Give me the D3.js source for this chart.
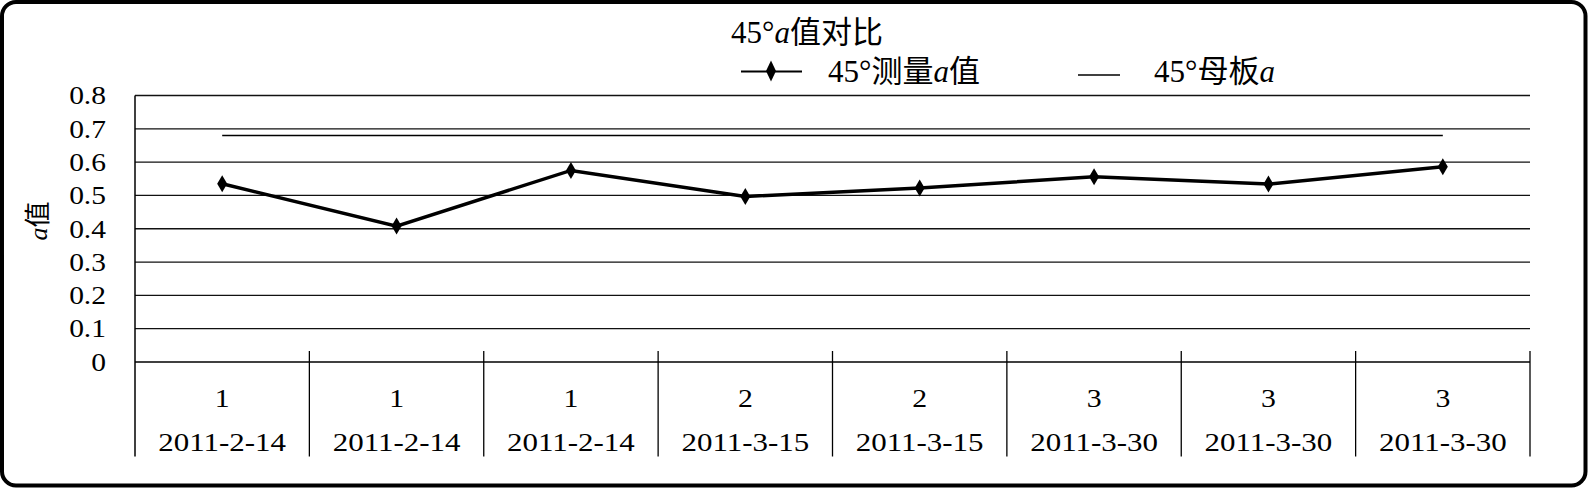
<!DOCTYPE html>
<html lang="zh">
<head>
  <meta charset="UTF-8">
  <title>45°a值对比</title>
  <script src="https://cdn.jsdelivr.net/npm/d3@7"></script>
  <style>
    html, body { margin: 0; padding: 0; background: #fff; }
    svg { display: block; }
    text { fill: #000; }
  </style>
</head>
<body>
  <div id="chart"></div>
  <script>
    // data
    const groups = ['1', '1', '1', '2', '2', '3', '3', '3'];
    const dates = ['2011-2-14', '2011-2-14', '2011-2-14', '2011-3-15', '2011-3-15', '2011-3-30', '2011-3-30', '2011-3-30'];
    const measured = [0.535, 0.408, 0.575, 0.497, 0.522, 0.556, 0.534, 0.586];
    const motherBoard = [0.68, 0.68, 0.68, 0.68, 0.68, 0.68, 0.68, 0.68];
    const yTicks = [0, 0.1, 0.2, 0.3, 0.4, 0.5, 0.6, 0.7, 0.8];

    const LAT = '"Liberation Serif"';
    const CJK = '"Noto Sans CJK SC"';

    const width = 1588, height = 488;
    const plot = { left: 135, right: 1530, top: 95.5, bottom: 362 };

    const svg = d3.select('#chart').append('svg')
      .attr('width', width)
      .attr('height', height);

    // outer rounded frame
    svg.append('rect')
      .attr('x', 2).attr('y', 2)
      .attr('width', 1583.5).attr('height', 483.5)
      .attr('rx', 14).attr('ry', 14)
      .attr('fill', '#fff')
      .attr('stroke', '#000')
      .attr('stroke-width', 4);

    const idx = d3.range(groups.length);
    const x = d3.scaleBand().domain(idx).range([plot.left, plot.right]).padding(0);
    const cx = i => x(i) + x.bandwidth() / 2;
    const y = d3.scaleLinear().domain([0, 0.8]).range([plot.bottom, plot.top]);

    // mixed latin / cjk text: each piece gets its own font
    function richText(sel, parts) {
      parts.forEach(p => {
        sel.append('tspan')
          .style('font-family', p.cjk ? CJK : LAT)
          .style('font-style', p.italic ? 'italic' : 'normal')
          .text(p.t);
      });
      return sel;
    }

    // horizontal gridlines
    svg.append('g')
      .selectAll('line')
      .data(yTicks.filter(d => d > 0))
      .join('line')
      .attr('x1', plot.left).attr('x2', plot.right)
      .attr('y1', d => y(d)).attr('y2', d => y(d))
      .attr('stroke', '#111')
      .attr('stroke-width', 1.3);

    // y tick labels
    svg.append('g')
      .selectAll('text')
      .data(yTicks)
      .join('text')
      .attr('transform', d => `translate(106,${y(d)}) scale(1.18,1)`)
      .attr('text-anchor', 'end')
      .attr('dy', '0.35em')
      .attr('font-size', 25)
      .style('font-family', LAT)
      .text(d => d === 0 ? '0' : d3.format('.1f')(d));

    // y axis title
    const yTitle = svg.append('text')
      .attr('transform', 'translate(47,221) rotate(-90)')
      .attr('text-anchor', 'middle')
      .attr('font-size', 26);
    richText(yTitle, [{ t: 'a', italic: true }, { t: '值', cjk: true }]);

    // axes lines
    svg.append('line')
      .attr('x1', plot.left).attr('x2', plot.left)
      .attr('y1', plot.top).attr('y2', 456.5)
      .attr('stroke', '#000').attr('stroke-width', 1.5);
    svg.append('line')
      .attr('x1', plot.left).attr('x2', plot.right)
      .attr('y1', plot.bottom).attr('y2', plot.bottom)
      .attr('stroke', '#000').attr('stroke-width', 1.5);

    // category separators
    svg.append('g')
      .selectAll('line')
      .data(idx.slice(1).concat([groups.length]))
      .join('line')
      .attr('x1', i => i < groups.length ? x(i) : plot.right)
      .attr('x2', i => i < groups.length ? x(i) : plot.right)
      .attr('y1', 351).attr('y2', 456.5)
      .attr('stroke', '#000').attr('stroke-width', 1.3);

    // category labels (two rows)
    const catLabels = svg.append('g').selectAll('g')
      .data(idx)
      .join('g');
    catLabels.append('text')
      .attr('transform', i => `translate(${cx(i)},406.5) scale(1.19,1)`)
      .attr('text-anchor', 'middle')
      .attr('font-size', 25)
      .style('font-family', LAT)
      .text(i => groups[i]);
    catLabels.append('text')
      .attr('transform', i => `translate(${cx(i)},451) scale(1.19,1)`)
      .attr('text-anchor', 'middle')
      .attr('font-size', 26)
      .style('font-family', LAT)
      .text(i => dates[i]);

    // mother board reference line
    svg.append('path')
      .datum(motherBoard)
      .attr('d', d3.line().x((d, i) => cx(i)).y(d => y(d)))
      .attr('fill', 'none')
      .attr('stroke', '#000')
      .attr('stroke-width', 1.6);

    // measured series
    svg.append('path')
      .datum(measured)
      .attr('d', d3.line().x((d, i) => cx(i)).y(d => y(d)))
      .attr('fill', 'none')
      .attr('stroke', '#000')
      .attr('stroke-width', 3.5);

    const diamond = 'M0,-8.5L5,0L0,8.5L-5,0Z';
    svg.append('g')
      .selectAll('path')
      .data(measured)
      .join('path')
      .attr('transform', (d, i) => `translate(${cx(i)},${y(d)})`)
      .attr('d', diamond)
      .attr('fill', '#000');

    // title
    const title = svg.append('text')
      .attr('x', 731).attr('y', 42.5)
      .attr('font-size', 31);
    richText(title, [{ t: '45°' }, { t: 'a', italic: true }, { t: '值对比', cjk: true }]);

    // legend
    const legend = svg.append('g');
    legend.append('line')
      .attr('x1', 741).attr('x2', 802).attr('y1', 71.5).attr('y2', 71.5)
      .attr('stroke', '#000').attr('stroke-width', 2);
    legend.append('path')
      .attr('transform', 'translate(771,71)')
      .attr('d', 'M0,-10.5L5,0L0,10.5L-5,0Z')
      .attr('fill', '#000');
    const l1 = legend.append('text')
      .attr('x', 828).attr('y', 81.5)
      .attr('font-size', 31);
    richText(l1, [{ t: '45°' }, { t: '测量', cjk: true }, { t: 'a', italic: true }, { t: '值', cjk: true }]);

    legend.append('line')
      .attr('x1', 1078).attr('x2', 1120).attr('y1', 75).attr('y2', 75)
      .attr('stroke', '#000').attr('stroke-width', 1.5);
    const l2 = legend.append('text')
      .attr('x', 1154).attr('y', 81.5)
      .attr('font-size', 31);
    richText(l2, [{ t: '45°' }, { t: '母板', cjk: true }, { t: 'a', italic: true }]);
  </script>
</body>
</html>
